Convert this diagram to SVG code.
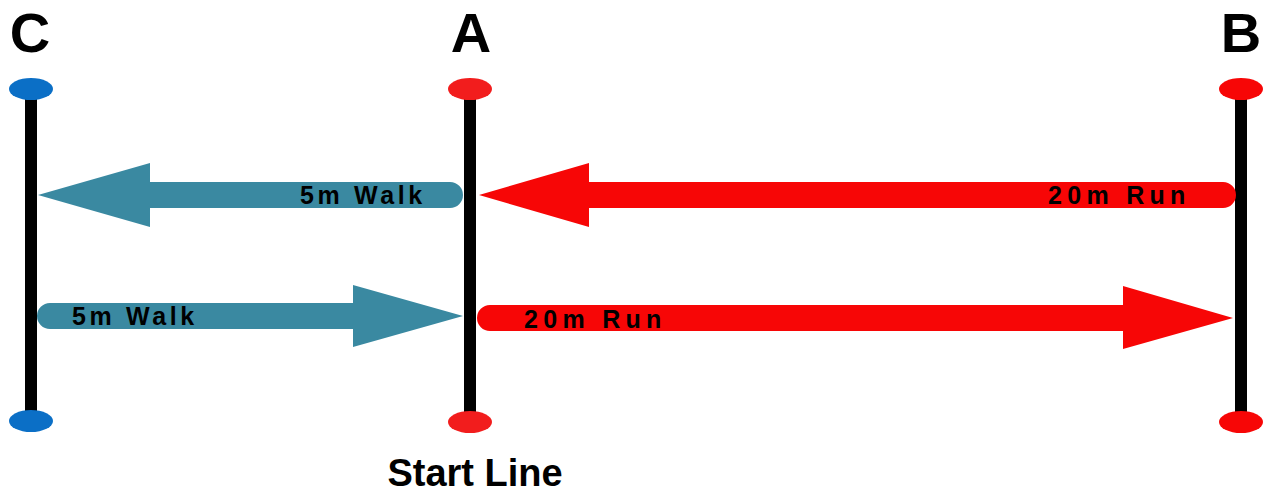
<svg xmlns="http://www.w3.org/2000/svg" width="1263" height="492" viewBox="0 0 1263 492">
<style>
.lbl{font-family:"Liberation Sans",Arial,sans-serif;font-weight:bold;fill:#000}
.big{font-size:56px;text-anchor:middle}
.arr{font-size:25px}
.pole{stroke:#000;stroke-width:12}
.teal{fill:#3a89a1}
.red{fill:#f70606}
.dotr{fill:#f21d1d}
.dotb{fill:#0b6fc6}
</style>
<rect width="1263" height="492" fill="#fff"/>
<g id="nodeC">
<line class="pole" x1="31" y1="95" x2="31" y2="416"/>
<ellipse class="dotb" cx="31" cy="89" rx="22" ry="11"/>
<ellipse class="dotb" cx="31" cy="421" rx="22" ry="11"/>
<text class="lbl big" x="30" y="52">C</text>
</g>
<g id="nodeA">
<line class="pole" x1="470" y1="95" x2="470" y2="416"/>
<ellipse class="dotr" cx="470" cy="89" rx="22" ry="11"/>
<ellipse class="dotr" cx="470" cy="422" rx="22" ry="11"/>
<text class="lbl big" x="471" y="52">A</text>
<text class="lbl" x="475" y="486" font-size="38" text-anchor="middle">Start Line</text>
</g>
<g id="nodeB">
<line class="pole" x1="1241" y1="95" x2="1241" y2="416"/>
<ellipse class="red" cx="1241" cy="89" rx="22" ry="11"/>
<ellipse class="red" cx="1241" cy="422" rx="22" ry="11"/>
<text class="lbl big" x="1241" y="52">B</text>
</g>
<g id="connectors">
<path class="teal" d="M38,195 L150,163 L150,182 L450,182 A13,13 0 0 1 450,208 L150,208 L150,227 Z"/>
<text class="lbl arr" x="300" y="204" letter-spacing="3.6">5m Walk</text>
<path class="red" d="M479,195 L589,163 L589,182 L1223,182 A13,13 0 0 1 1223,208 L589,208 L589,227 Z"/>
<text class="lbl arr" x="1048" y="204" letter-spacing="5.3">20m Run</text>
<path class="teal" d="M463,316 L353,285 L353,303 L50,303 A13,13 0 0 0 50,329 L353,329 L353,347 Z"/>
<text class="lbl arr" x="72" y="325" letter-spacing="3.6">5m Walk</text>
<path class="red" d="M1233,318 L1123,286 L1123,305 L490,305 A13,13 0 0 0 490,331 L1123,331 L1123,349 Z"/>
<text class="lbl arr" x="524" y="328" letter-spacing="5.3">20m Run</text>
</g>
</svg>
